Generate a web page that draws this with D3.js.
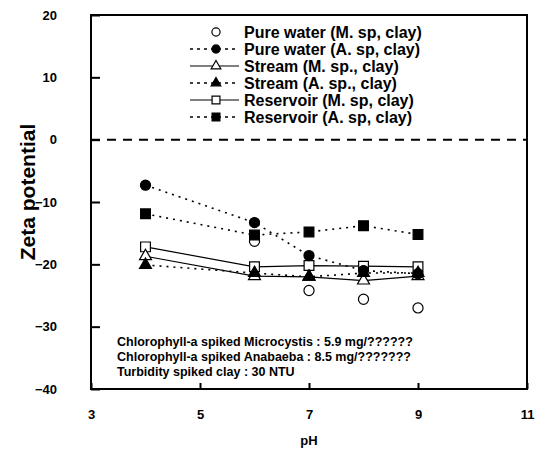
<!DOCTYPE html>
<html>
<head>
<meta charset="utf-8">
<script src="https://cdn.jsdelivr.net/npm/d3@7"></script>
<style>
  body { margin: 0; background: #fff; }
  text { font-family: "Liberation Sans", Arial, sans-serif; font-weight: bold; fill: #000; }
</style>
</head>
<body>
<div id="chart"></div>
<script>
// values
var phValues = [4, 6, 7, 8, 9];
var pureWaterM = [null, -16.3, -24.2, -25.6, -27.0];
var pureWaterA = [-7.3, -13.3, -18.6, -21.0, -21.5];
var streamM = [-18.7, -21.9, -22.0, -22.6, -21.9];
var streamA = [-20.1, -21.4, -22.0, -21.4, -21.4];
var reservoirM = [-17.2, -20.4, -20.2, -20.3, -20.4];
var reservoirA = [-11.9, -15.3, -14.8, -13.8, -15.2];

var seriesNames = [
  'Pure water (M. sp, clay)',
  'Pure water (A. sp, clay)',
  'Stream (M. sp., clay)',
  'Stream (A. sp., clay)',
  'Reservoir (M. sp, clay)',
  'Reservoir (A. sp, clay)'
];
var xTicks = [3, 5, 7, 9, 11];
var yTicks = [-40, -30, -20, -10, 0, 10, 20];
var notes = [
  'Chlorophyll-a spiked Microcystis : 5.9 mg/??????',
  'Chlorophyll-a spiked Anabaeba : 8.5 mg/???????',
  'Turbidity spiked clay : 30 NTU'
];

// canvas size and plot box
var W = 539, H = 452;
var pLeft = 91, pRight = 527, pTop = 15, pBottom = 389;

var svg = d3.select('#chart').append('svg')
  .attr('width', W).attr('height', H);

var x = d3.scaleLinear().domain([3, 11]).range([pLeft, pRight]);
var y = d3.scaleLinear().domain([-40, 20]).range([pBottom, pTop]);

// series setup: marker shape, fill, line style
var series = [
  { name: seriesNames[0], vals: pureWaterM, shape: d3.symbolCircle, fill: '#fff', line: 'none' },
  { name: seriesNames[1], vals: pureWaterA, shape: d3.symbolCircle, fill: '#000', line: 'dot' },
  { name: seriesNames[2], vals: streamM, shape: d3.symbolTriangle, fill: '#fff', line: 'solid' },
  { name: seriesNames[3], vals: streamA, shape: d3.symbolTriangle, fill: '#000', line: 'dot' },
  { name: seriesNames[4], vals: reservoirM, shape: d3.symbolSquare, fill: '#fff', line: 'solid' },
  { name: seriesNames[5], vals: reservoirA, shape: d3.symbolSquare, fill: '#000', line: 'dot' }
];
function sizeOf(s) {
  if (s === d3.symbolCircle) return 80;
  if (s === d3.symbolTriangle) return 62;
  return 95;
}

// zero line
svg.append('line')
  .attr('x1', pLeft).attr('x2', pRight)
  .attr('y1', y(0)).attr('y2', y(0))
  .attr('stroke', '#000').attr('stroke-width', 2)
  .attr('stroke-dasharray', '9,7');

// lines
var lineGen = d3.line()
  .defined(function (d) { return d.v !== null; })
  .x(function (d) { return x(d.ph); })
  .y(function (d) { return y(d.v); });

series.forEach(function (s) {
  s.pts = phValues.map(function (p, i) { return { ph: p, v: s.vals[i] }; });
  if (s.line === 'none') return;
  svg.append('path')
    .datum(s.pts)
    .attr('d', lineGen)
    .attr('fill', 'none')
    .attr('stroke', '#000')
    .attr('stroke-width', s.line === 'dot' ? 1.6 : 1.2)
    .attr('stroke-dasharray', s.line === 'dot' ? '2,5' : null);
});

// markers, in overlap order seen in the figure
var order = [0, 4, 2, 3, 1, 5];
order.forEach(function (k) {
  var s = series[k];
  svg.selectAll(null)
    .data(s.pts.filter(function (d) { return d.v !== null; }))
    .enter().append('path')
    .attr('d', d3.symbol().type(s.shape).size(sizeOf(s.shape)))
    .attr('transform', function (d) { return 'translate(' + x(d.ph) + ',' + y(d.v) + ')'; })
    .attr('fill', s.fill)
    .attr('stroke', '#000')
    .attr('stroke-width', 1.2);
});

// frame
svg.append('rect')
  .attr('x', pLeft).attr('y', pTop)
  .attr('width', pRight - pLeft).attr('height', pBottom - pTop)
  .attr('fill', 'none').attr('stroke', '#000').attr('stroke-width', 2);

// axes (ticks inside)
var xAxis = d3.axisBottom(x).tickValues(xTicks).tickSize(-6).tickPadding(21).tickFormat(d3.format('d'));
var gx = svg.append('g').attr('transform', 'translate(0,' + pBottom + ')').call(xAxis);
gx.select('.domain').remove();
gx.selectAll('line').attr('stroke', '#000').attr('stroke-width', 2);
gx.selectAll('text').attr('font-size', 13).attr('font-family', null);

var yAxis = d3.axisLeft(y).tickValues(yTicks).tickSize(-9).tickPadding(34).tickFormat(d3.format('d'));
var gy = svg.append('g').attr('transform', 'translate(' + pLeft + ',0)').call(yAxis);
gy.select('.domain').remove();
gy.selectAll('line').attr('stroke', '#000').attr('stroke-width', 2);
gy.selectAll('text').attr('font-size', 13).attr('font-family', null);

// axis titles
svg.append('text')
  .attr('x', x(7)).attr('y', 445)
  .attr('text-anchor', 'middle').attr('font-size', 13)
  .text('pH');
svg.append('text')
  .attr('transform', 'translate(35,192) rotate(-90)')
  .attr('text-anchor', 'middle').attr('font-size', 21)
  .text('Zeta potential');

// legend
var lgX0 = 190, lgX1 = 239, lgMid = 216, lgTxt = 244, lgY = 32, lgStep = 17;
series.forEach(function (s, i) {
  var yy = lgY + i * lgStep;
  if (s.line !== 'none') {
    svg.append('line')
      .attr('x1', lgX0).attr('x2', lgX1).attr('y1', yy).attr('y2', yy)
      .attr('stroke', '#000')
      .attr('stroke-width', s.line === 'dot' ? 1.4 : 1)
      .attr('stroke-dasharray', s.line === 'dot' ? '3,4' : null);
  }
  svg.append('path')
    .attr('d', d3.symbol().type(s.shape).size(sizeOf(s.shape) * 0.65))
    .attr('transform', 'translate(' + lgMid + ',' + yy + ')')
    .attr('fill', s.fill).attr('stroke', '#000').attr('stroke-width', 1.2);
  svg.append('text')
    .attr('x', lgTxt).attr('y', yy).attr('dy', '0.36em')
    .attr('font-size', 16)
    .text(s.name);
});

// notes
notes.forEach(function (t, i) {
  svg.append('text')
    .attr('x', 117).attr('y', 341 + i * 15).attr('dy', '0.36em')
    .attr('font-size', 12.5)
    .text(t);
});
</script>
</body>
</html>
